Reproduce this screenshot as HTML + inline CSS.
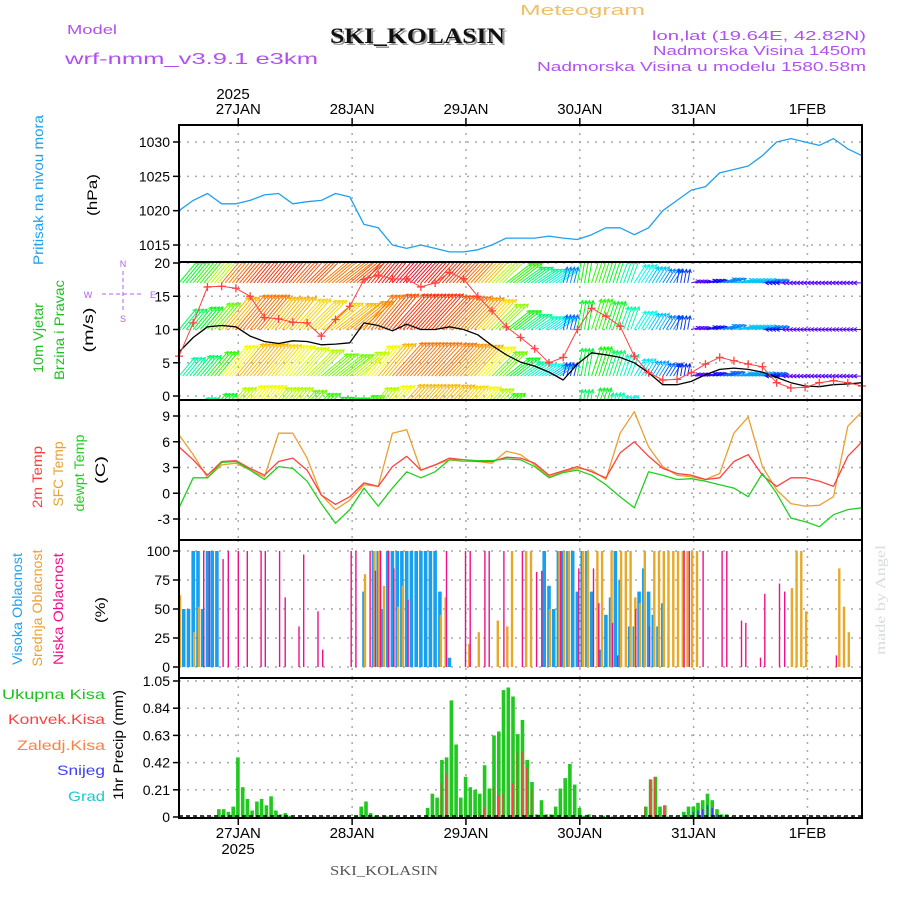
<!DOCTYPE html>
<html><head><meta charset="utf-8"><style>
html,body{margin:0;padding:0;background:#fff}
svg{display:block}
text{font-family:"Liberation Sans",sans-serif}
.tk{font-size:14px;fill:#000;text-anchor:end}
.grid{stroke:#aaa;stroke-width:1.5;stroke-dasharray:2 6;fill:none}
</style></head><body>
<svg id="chart" xmlns="http://www.w3.org/2000/svg" width="900" height="900" viewBox="0 0 900 900">
<defs>
<clipPath id="cpW"><rect x="179" y="262" width="683" height="138"/></clipPath>
<clipPath id="cpP"><rect x="179" y="125" width="683" height="137"/></clipPath>
</defs>
<text x="520" y="15" font-size="15" fill="#f0c068" textLength="125" lengthAdjust="spacingAndGlyphs">Meteogram</text>
<text x="67" y="34" font-size="13" fill="#b050f0" textLength="50" lengthAdjust="spacingAndGlyphs">Model</text>
<text x="332" y="45" font-size="22" font-weight="bold" fill="#999" style="font-family:'Liberation Serif',serif" textLength="175" lengthAdjust="spacingAndGlyphs">SKI_KOLASIN</text>
<text x="330" y="43" font-size="22" font-weight="bold" fill="#111" style="font-family:'Liberation Serif',serif" textLength="175" lengthAdjust="spacingAndGlyphs">SKI_KOLASIN</text>
<text x="65" y="64" font-size="16" fill="#b050f0" textLength="253" lengthAdjust="spacingAndGlyphs">wrf-nmm_v3.9.1 e3km</text>
<text x="652" y="40" font-size="13" fill="#b050f0" textLength="214" lengthAdjust="spacingAndGlyphs">lon,lat (19.64E, 42.82N)</text>
<text x="653" y="55" font-size="13" fill="#b050f0" textLength="213" lengthAdjust="spacingAndGlyphs">Nadmorska Visina 1450m</text>
<text x="537" y="71" font-size="13" fill="#b050f0" textLength="329" lengthAdjust="spacingAndGlyphs">Nadmorska Visina u modelu 1580.58m</text>
<text x="233" y="99" font-size="15" text-anchor="middle">2025</text>
<text x="238" y="854" font-size="15" text-anchor="middle">2025</text>
<text x="330" y="875" font-size="14" fill="#555" style="font-family:'Liberation Serif',serif" textLength="108" lengthAdjust="spacingAndGlyphs">SKI_KOLASIN</text>
<text transform="translate(885,600) rotate(-90)" font-size="14" fill="#d8dcd8" text-anchor="middle" style="font-family:'Liberation Serif',serif" textLength="110" lengthAdjust="spacingAndGlyphs">made by Angel</text>
<g font-size="14" text-anchor="middle">
<text transform="translate(43,190) rotate(-90)" fill="#1ea0f0" textLength="150" lengthAdjust="spacingAndGlyphs">Pritisak na nivou mora</text>
<text transform="translate(97,195) rotate(-90)" fill="#000" textLength="42" lengthAdjust="spacingAndGlyphs">(hPa)</text>
<text transform="translate(43,338) rotate(-90)" fill="#20c020" textLength="70" lengthAdjust="spacingAndGlyphs">10m Vjetar</text>
<text transform="translate(64,330) rotate(-90)" fill="#20c020" textLength="100" lengthAdjust="spacingAndGlyphs">Brzina i Pravac</text>
<text transform="translate(93,330) rotate(-90)" fill="#000" textLength="45" lengthAdjust="spacingAndGlyphs">(m/s)</text>
<text transform="translate(42,477) rotate(-90)" fill="#ff4040" textLength="62" lengthAdjust="spacingAndGlyphs">2m Temp</text>
<text transform="translate(63,474) rotate(-90)" fill="#e8a030" textLength="65" lengthAdjust="spacingAndGlyphs">SFC Temp</text>
<text transform="translate(84,473) rotate(-90)" fill="#20d020" textLength="77" lengthAdjust="spacingAndGlyphs">dewpt Temp</text>
<text transform="translate(105,470) rotate(-90)" fill="#000" textLength="28" lengthAdjust="spacingAndGlyphs">(C)</text>
<text transform="translate(22,609) rotate(-90)" fill="#1ea0f0" textLength="112" lengthAdjust="spacingAndGlyphs">Visoka Oblacnost</text>
<text transform="translate(42,608) rotate(-90)" fill="#e8a030" textLength="117" lengthAdjust="spacingAndGlyphs">Srednja Oblacnost</text>
<text transform="translate(63,609) rotate(-90)" fill="#f0108a" textLength="112" lengthAdjust="spacingAndGlyphs">Niska Oblacnost</text>
<text transform="translate(105,610) rotate(-90)" fill="#000" textLength="26" lengthAdjust="spacingAndGlyphs">(%)</text>
<text transform="translate(123,745) rotate(-90)" fill="#000" textLength="110" lengthAdjust="spacingAndGlyphs">1hr Precip (mm)</text>
</g>
<g font-size="14" text-anchor="end">
<text x="105" y="699" fill="#20c020" textLength="103" lengthAdjust="spacingAndGlyphs">Ukupna  Kisa</text>
<text x="105" y="724" fill="#ff4040" textLength="97" lengthAdjust="spacingAndGlyphs">Konvek.Kisa</text>
<text x="105" y="750" fill="#ff8040" textLength="88" lengthAdjust="spacingAndGlyphs">Zaledj.Kisa</text>
<text x="105" y="775" fill="#4040f0" textLength="48" lengthAdjust="spacingAndGlyphs">Snijeg</text>
<text x="105" y="801" fill="#20c8d0" textLength="37" lengthAdjust="spacingAndGlyphs">Grad</text>
</g>
<g fill="#b060f0" stroke="#b060f0" font-size="9" text-anchor="middle">
<text x="123" y="267" stroke="none">N</text>
<text x="123" y="322" stroke="none">S</text>
<text x="88" y="298" stroke="none">W</text>
<text x="153" y="298" stroke="none">E</text>
<line x1="123" y1="271" x2="123" y2="313" stroke-dasharray="4 3"/>
<line x1="102" y1="294" x2="144" y2="294" stroke-dasharray="4 3"/>
</g>
<g id="plots"></g>
</svg>
<script>
const dayLabels = ["27JAN","28JAN","29JAN","30JAN","31JAN","1FEB"];
const dayTickHours = [12.5,36.5,60.5,84.5,108.5,132.5];
const pressTicks = [1015,1020,1025,1030];
const windTicks = [0,5,10,15,20];
const tempTicks = [-3,0,3,6,9];
const cloudTicks = [0,25,50,75,100];
const precipTicks = [0,0.21,0.42,0.63,0.84,1.05];
const precipTickLabels = ["0","0.21","0.42","0.63","0.84","1.05"];
const pressure = [1020,1021.5,1022.5,1021,1021,1021.5,1022.3,1022.5,1021,1021.3,1021.5,1022.5,1022,1018,1017.5,1015,1014.5,1015,1014.5,1014,1014,1014.3,1015,1016,1016,1016,1016.3,1016,1015.8,1016.5,1017.5,1017.5,1016.5,1017.5,1020,1021.5,1023,1023.5,1025.5,1026,1026.5,1028,1030,1030.5,1030,1029.5,1030.5,1029,1028];
const windSpeed = [6.6,8.8,10.4,10.6,10.4,9.0,8.2,7.9,8.3,8.2,7.7,7.8,8.0,11.0,10.6,9.8,10.8,10.0,10.0,10.4,10.0,9.2,7.6,6.2,5.1,4.5,3.6,2.4,4.8,6.5,6.2,5.8,5.0,3.5,1.7,1.7,2.2,3.2,4.0,4.2,4.0,3.6,2.8,2.0,1.5,1.4,1.7,1.8,2.0];
const windGust = [6.0,11.0,16.4,16.5,16.2,15.0,11.8,11.6,11.1,11.0,9.0,11.5,13.5,17.5,18.2,17.6,17.6,16.4,17.0,18.6,17.6,15.0,12.8,10.4,8.8,7.1,5.0,5.8,10.0,13.2,12.0,10.5,6.0,3.5,2.4,2.5,3.5,4.8,5.8,5.3,4.8,4.4,2.0,1.2,1.3,2.0,2.3,2.0,1.5];
const windDir = [50,50,50,50,50,50,50,50,48,45,40,38,40,50,50,48,48,48,47,47,47,47,45,38,36,34,34,75,80,72,72,70,58,58,58,80,15,15,15,10,10,10,180,180,180,180,180,180,180];
const windRow17 = [9,10,12,15,15.5,16,16,16,15.5,15.5,15,15,15.5,16,16.5,17,17,16.5,16,15.5,15,14,12,10,8,7,6,4,9.5,10,9,7,6,5,4,3,1,2,4,5,5,4,2,1,1,1,1,1,1];
const windRow10 = [8,9,11,14,15,15,14,14,13.5,13.5,13.5,14,14.5,15,15.5,16,16,16,15.5,15,14.5,13.5,11.5,9.5,7.5,6.5,5.5,3.5,9,10,9,7,6,5,4,3,1,2,4,5,5,4,2,1,1,1,1,1,1];
const windRow3 = [7,8,10,13,14,14,13.5,13,12.5,12,11,11,12,13,14,15,15,15,15,14.5,14,13,11,9,7,6,5,3,8.5,9.5,8,6.5,5.5,4.5,3.5,2.5,1,2,3.5,4.5,4.5,3.5,2,1,1,1,1,1,1];
const windRowM3 = [6,7,9,12,13,13,12,12,11,10,9,9,10,12,13,14,14,14,14,13.5,13,12,10,8,6,5,4,3,8,9,7,6,5,4,3,2,1,1,1,1,1,1,1,1,1,1,1,1,1];
const windRowLevels = [-3,3,10,17];
const temp2m = [5.4,3.9,2.1,3.7,3.8,2.9,2.1,3.7,4.1,2.7,-0.2,-1.3,-0.4,1.2,0.8,3.1,4.3,2.7,3.3,4.1,3.9,3.7,3.7,4.2,4.1,3.5,2.1,2.6,3.1,2.5,1.8,4.7,6.0,4.3,2.9,2.3,2.1,1.6,1.8,3.7,4.5,2.1,0.8,1.8,1.8,1.4,0.8,4.3,6.0];
const tempSfc = [6.8,4.5,1.8,3.3,3.5,2.7,1.9,7.0,7.0,4.1,-0.2,-1.9,-0.8,1.0,0.8,7.0,7.4,2.7,3.3,3.9,3.7,3.7,3.5,4.9,4.5,3.3,1.9,2.5,2.9,2.7,1.6,7.0,9.5,5.4,3.1,2.1,1.9,1.6,2.3,7.0,8.9,3.1,0.4,-1.2,-1.5,-1.4,-0.4,7.8,9.5];
const tempDew = [-1.7,1.8,1.8,3.6,3.7,2.7,1.6,3.1,2.9,1.4,-1.2,-3.5,-1.9,0.6,-1.5,0.6,2.5,1.8,2.5,3.9,3.9,3.8,3.8,4.0,3.9,3.1,1.8,2.4,2.7,2.1,1.0,-0.4,-1.7,2.5,2.1,1.6,1.7,1.4,1.0,0.6,-0.4,2.3,0,-2.9,-3.3,-3.9,-2.5,-1.9,-1.7];
const cloudHighHours = [1,2,3,4,5,6,7,8,39,41,42,43,44,45,46,47,48,49,50,51,52,53,54,55,57,77,78,79,80,81,82,83,84,85,86,87,89,90,91,92,93,95,96,97,98,99,100,101,102];
const cloudHighVals = [50,50,100,100,50,100,100,100,65,100,100,50,100,100,100,100,100,100,100,100,100,100,100,65,8,100,70,50,100,100,100,100,65,100,100,65,15,45,60,100,75,35,35,65,85,65,45,35,55];
const cloudMidHours = [0,3,4,39,41,42,43,46,47,55,56,61,63,67,69,70,73,74,78,80,81,82,85,86,88,89,91,93,94,95,96,97,98,100,101,102,103,104,105,106,107,108,109,129,130,131,132,139,140,141];
const cloudMidVals = [62,30,52,80,100,100,70,52,70,45,60,20,30,40,35,100,100,100,50,100,100,100,100,100,100,100,100,100,100,100,60,55,100,100,100,100,100,100,100,100,100,100,100,68,100,100,48,85,52,30];
const cloudLowHours = [5.2,6.4,9.3,10.4,12.5,14.4,17.3,18.2,21.2,22.4,25.3,26.3,29.3,30.3,36.3,37.3,40.3,41.4,42.5,44.2,45.3,48.3,56.4,60.4,61.4,64.5,65.4,68.5,72.4,75.4,76.5,80.5,84.3,87.4,88.5,91.4,92.5,96.3,99.2,106.5,107.6,110.5,114.5,115.5,118.6,119.5,122.6,123.5,126.6,127.7,138.6];
const cloudLowVals = [100,100,93,100,100,100,100,100,100,60,35,97,48,15,100,100,100,83,100,100,85,58,100,100,100,100,100,100,100,82,83,100,85,85,55,38,10,50,35,100,100,100,100,100,40,38,8,63,72,65,10];
const precipHours = [8,9,10,11,12,13,14,15,16,17,18,19,20,21,22,23,37,38,39,40,41,43,52,53,54,55,56,57,58,59,60,61,62,63,64,65,66,67,68,69,70,71,72,73,74,75,76,77,78,79,80,81,82,83,84,85,86,89,90,98,99,100,101,102,106,107,108,109,110,111,112,113,114,115];
const precipTotal = [.06,.06,.04,.08,.46,.23,.14,.05,.12,.14,.09,.16,.05,.02,.03,.01,.01,.08,.12,.03,.01,.01,.07,.18,.15,.44,.46,.9,.56,.15,.31,.23,.21,.18,.40,.22,.63,.66,.98,1.0,.93,.64,.75,.44,.27,.02,.13,.02,.02,.08,.22,.30,.41,.25,.07,.01,.02,.01,.01,.08,.29,.31,.08,.09,.04,.08,.08,.11,.13,.18,.13,.06,.02,.02];
const convHours = [55,56,63,64,66,67,68,70,71,72,73,74,98,99,100,102];
const convVals = [.26,.33,.02,.07,.23,.17,.18,.26,.5,.5,.38,.21,.08,.29,.31,.09];
const snowHours = [108,109,110,111,112,113];
const snowVals = [.04,.05,.06,.09,.07,.02];

const X0=179, X1=862, HMAX=144;
const xS = h => X0 + h*(X1-X0)/HMAX;
const lin = (d0,d1,r0,r1) => v => r0 + (v-d0)*(r1-r0)/(d1-d0);
const yP = lin(1015,1030,245,142);
const yW = lin(0,20,396,263);
const yT = lin(-3,9,519,416);
const yC = lin(0,100,667,551);
const yR = lin(0,1.05,817,681);
const panels = [[125,262],[262,400],[400,540],[540,678],[678,818]];
const NS="http://www.w3.org/2000/svg";
const root=document.getElementById('plots');
function mk(tag,attrs,parent){const e=document.createElementNS(NS,tag);for(const k in attrs)e.setAttribute(k,attrs[k]);(parent||root).appendChild(e);return e;}

const gGrid=mk('g',{});


panels.forEach(p=>{
  dayTickHours.forEach(h=>{
    const l=mk('line',{x1:xS(h),x2:xS(h),y1:p[0],y2:p[1],class:'grid'},gGrid);
    
    
  });
});
function yAxis(ticks,labels,ys,name){
  const g=mk('g',{});
  
  
  ticks.forEach((t,i)=>{
    const y=ys(t);
    mk('line',{x1:X0,x2:X1,y1:y,y2:y,class:'grid'},g);
    mk('line',{x1:X0-6,x2:X0,y1:y,y2:y,stroke:'#000','stroke-width':1.5},g);
    const tx=mk('text',{x:X0-9,y:y+5,class:'tk'},g);
    tx.textContent=labels?labels[i]:String(t);
    
    
  });
}
yAxis(pressTicks,null,yP,'pressure-y-axis');
yAxis(windTicks,null,yW,'wind-y-axis');
yAxis(tempTicks,null,yT,'temp-y-axis');
yAxis(cloudTicks,null,yC,'cloud-y-axis');
yAxis(precipTicks,precipTickLabels,yR,'precip-y-axis');

dayLabels.forEach((d,i)=>{
  const x=xS(dayTickHours[i]);
  const t1=mk('text',{x:x,y:114,'font-size':15,'text-anchor':'middle'});
  t1.textContent=d;
  
  
  const t2=mk('text',{x:x,y:838,'font-size':15,'text-anchor':'middle'});
  t2.textContent=d;
  
  
  mk('line',{x1:x,x2:x,y1:118,y2:125,stroke:'#000','stroke-width':1.5});
  mk('line',{x1:x,x2:x,y1:818,y2:825,stroke:'#000','stroke-width':1.5});
});

function line(vals,ys,color,w,name,clip){
  const pts=vals.map((v,i)=>xS(i*3).toFixed(1)+','+ys(v).toFixed(1)).join(' ');
  const p=mk('polyline',{points:pts,fill:'none',stroke:color,'stroke-width':w,'stroke-linejoin':'round'});
  if(clip)p.setAttribute('clip-path',clip);
  
  
  return p;
}
line(pressure,yP,'#1ea0f0',1.3,'pressure-line','url(#cpP)');

const gArr=mk('g',{'clip-path':'url(#cpW)','stroke-width':1,fill:'none'});


const rowData=[windRowM3,windRow3,windRow10,windRow17];
rowData.forEach((row,r)=>{
  const by=yW(windRowLevels[r]);
  row.forEach((s,i)=>{
    let hue=275-s*16.5; if(hue<0)hue+=360;
    const col='hsl('+hue.toFixed(0)+',95%,50%)';
    const a=windDir[i]*Math.PI/180, L=6+s*2.6;
    const dx=Math.cos(a)*L, dy=-Math.sin(a)*L;
    const n=(i===row.length-1)?1:4;
    for(let k=0;k<n;k++){
      const x=xS(i*3+k*0.75), tx=x+dx, ty=by+dy;
      const ang=Math.atan2(dy,dx), hl=4;
      const d='M'+x.toFixed(1)+','+by.toFixed(1)+'L'+tx.toFixed(1)+','+ty.toFixed(1)+
        'M'+(tx-hl*Math.cos(ang-0.5)).toFixed(1)+','+(ty-hl*Math.sin(ang-0.5)).toFixed(1)+'L'+tx.toFixed(1)+','+ty.toFixed(1)+
        'L'+(tx-hl*Math.cos(ang+0.5)).toFixed(1)+','+(ty-hl*Math.sin(ang+0.5)).toFixed(1);
      const p=mk('path',{d:d,stroke:col},gArr);
      
      
    }
  });
});
line(windSpeed,yW,'#000',1.3,'wind-speed-line','url(#cpW)');
line(windGust,yW,'#ff4040',1,'wind-gust-line','url(#cpW)');
windGust.forEach((v,i)=>{
  const x=xS(i*3), y=yW(v);
  const c=mk('path',{d:'M'+(x-4)+','+y+'h8M'+x+','+(y-4)+'v8',stroke:'#ff4040','stroke-width':1.3});
  
  
});

line(tempSfc,yT,'#e8a030',1.3,'sfc-temp-line');
line(temp2m,yT,'#ff4040',1.3,'2m-temp-line');
line(tempDew,yT,'#20d020',1.3,'dewpt-temp-line');

function bars(hours,vals,ys,color,w,name,off){
  hours.forEach((h,i)=>{
    const x=xS(h)+(off||0), y=ys(vals[i]), y0=ys(0);
    const r=mk('rect',{x:(x-w/2).toFixed(1),y:y.toFixed(1),width:w,height:Math.max(0,y0-y).toFixed(1),fill:color});
    
    
  });
}
bars(cloudHighHours,cloudHighVals,yC,'#18a0f0',3.6,'cloud-high-bar',0);
bars(cloudMidHours,cloudMidVals,yC,'#e8a828',2.4,'cloud-mid-bar',1);
bars(cloudLowHours,cloudLowVals,yC,'#f0108a',1.4,'cloud-low-bar',0);

bars(precipHours,precipTotal,yR,'#20c820',3.6,'precip-total-bar',2);
bars(convHours,convVals,yR,'#ff4040',1.4,'precip-convective-bar',1.5);
bars(snowHours,snowVals,yR,'#4040f0',1.6,'precip-snow-bar',2);
const zl=mk('line',{x1:X0,x2:X1,y1:816,y2:816,stroke:'#000','stroke-width':1.5,'stroke-dasharray':'4 3'});



panels.forEach((p,i)=>{
  const r=mk('rect',{x:X0,y:p[0],width:X1-X0,height:p[1]-p[0],fill:'none',stroke:'#000','stroke-width':2});
  
  
});
</script>
</body></html>
